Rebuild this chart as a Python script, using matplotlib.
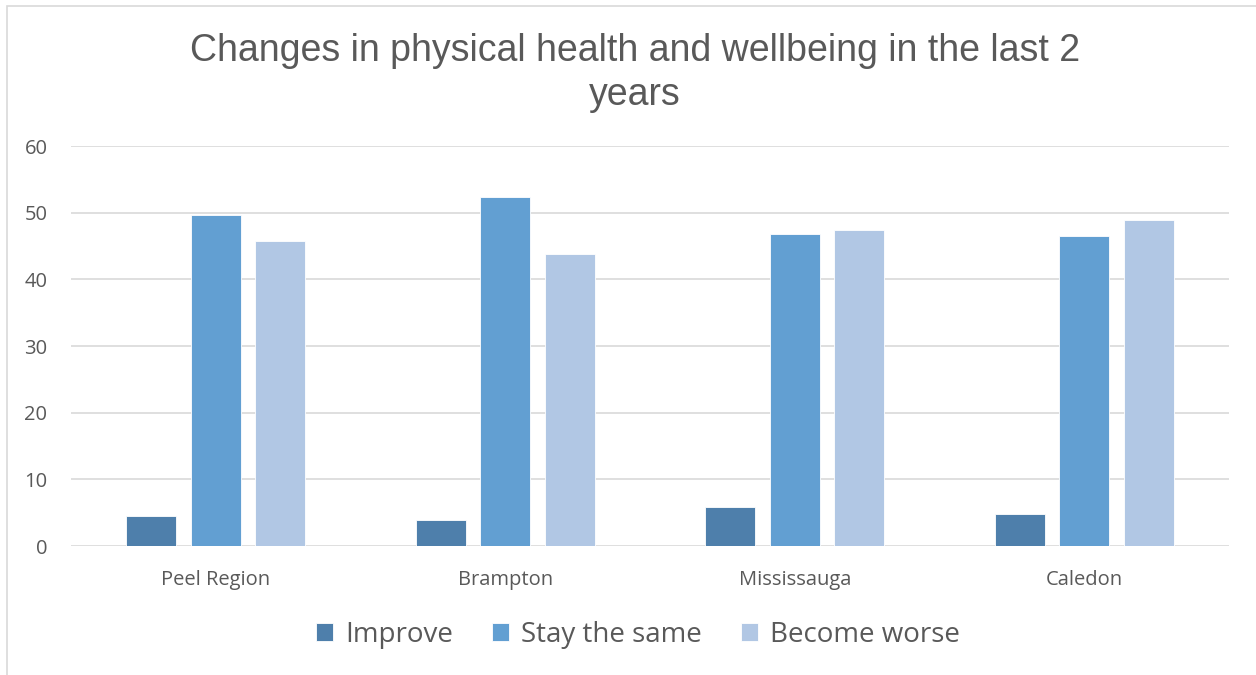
import matplotlib
matplotlib.use("Agg")
import matplotlib.pyplot as plt
from matplotlib.patches import Rectangle
import numpy as np

categories = ["Peel Region", "Brampton", "Mississauga", "Caledon"]
series_names = ["Improve", "Stay the same", "Become worse"]
improve = [4.55, 3.9, 5.85, 4.85]
stay_same = [49.7, 52.35, 46.8, 46.45]
become_worse = [45.75, 43.8, 47.4, 48.85]
colors = ["#4e7fab", "#629fd2", "#b1c7e4"]
yticks = [0, 10, 20, 30, 40, 50, 60]

fig = plt.figure(figsize=(12.56, 6.75), dpi=100)
fig.patch.set_facecolor("white")
# chart border
fig.patches.append(Rectangle((7/1256, -0.1), 1.2, 1.1 - 6/675, transform=fig.transFigure,
                             fill=False, edgecolor="#d9d9d9", linewidth=1.2))

ax = fig.add_axes([71/1256, 1 - 546/675, (1229 - 71)/1256, 400/675])
x = np.arange(len(categories))
step = 0.2228
width = 0.1727
for i, (vals, name) in enumerate(zip([improve, stay_same, become_worse], series_names)):
    ax.bar(x + (i - 1) * step, vals, width=width, color=colors[i], label=name,
           edgecolor="white", linewidth=0.6, zorder=3)

ax.set_xlim(-0.5, len(categories) - 0.5)
ax.set_ylim(0, 60)
ax.set_yticks(yticks)
ax.set_xticks(x)
ax.set_xticklabels(categories)
for s in ax.spines.values():
    s.set_visible(False)
ax.grid(axis="y", color="#d9d9d9", linewidth=1.2, zorder=0)
ax.tick_params(axis="both", length=0, labelsize=14.5, labelcolor="#595959",
               labelfontfamily="Open Sans")
ax.tick_params(axis="y", pad=17)
ax.tick_params(axis="x", pad=17)

fig.text(0.5055, 1 - 73/675, "Changes in physical health and wellbeing in the last 2\nyears",
         ha="center", va="center", fontsize=27, color="#595959",
         family="Liberation Sans", linespacing=1.3)

leg = fig.legend(loc="center", bbox_to_anchor=(638/1256, 1 - 635/675), ncol=3,
                 frameon=False, prop={"family": "Open Sans", "size": 20},
                 handlelength=0.6, handleheight=0.6, handletextpad=0.45,
                 columnspacing=1.4)
for t in leg.get_texts():
    t.set_color("#595959")

fig.savefig("out.png", dpi=100, facecolor="white")
